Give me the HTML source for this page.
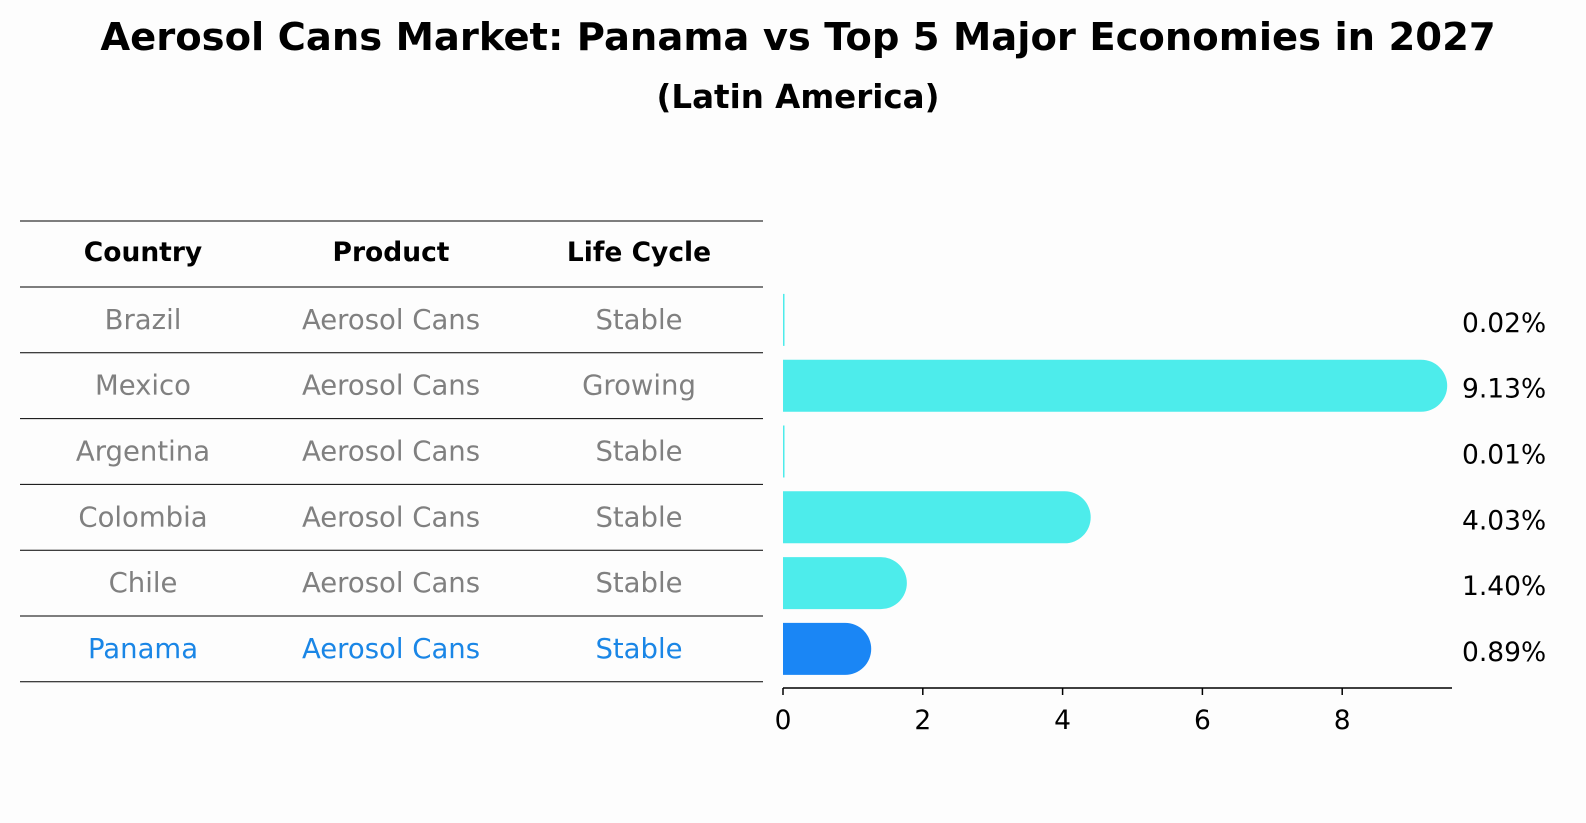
<!DOCTYPE html>
<html><head><meta charset="utf-8"><style>
html,body{margin:0;padding:0;background:#fdfdfd;overflow:hidden;font-family:"DejaVu Sans","Liberation Sans",sans-serif;}
svg{display:block}
</style></head><body>
<svg width="1586" height="823" viewBox="0 0 1586 823">
<text x="798" y="50" text-anchor="middle" font-size="38.5" font-weight="bold" font-family="DejaVu Sans, sans-serif">Aerosol Cans Market: Panama vs Top 5 Major Economies in 2027</text>
<text x="798" y="108" text-anchor="middle" font-size="32.5" font-weight="bold" font-family="DejaVu Sans, sans-serif">(Latin America)</text>
<g id="table"></g>
<g id="bars"></g>
</svg>
<script>
const countries=["Brazil","Mexico","Argentina","Colombia","Chile","Panama"];
const products=["Aerosol Cans","Aerosol Cans","Aerosol Cans","Aerosol Cans","Aerosol Cans","Aerosol Cans"];
const lifecycle=["Stable","Growing","Stable","Stable","Stable","Stable"];
const values=[0.02,9.13,0.01,4.03,1.40,0.89];
const ticks=[0,2,4,6,8];
const NS="http://www.w3.org/2000/svg";
function mk(tag,attrs,parent,text){const e=document.createElementNS(NS,tag);for(const k in attrs)e.setAttribute(k,attrs[k]);if(text!==undefined)e.textContent=text;parent.appendChild(e);return e;}
const tbl=document.getElementById('table'),bars=document.getElementById('bars');
const rowTop=287,rowH=65.8,cols=[143,391,639];
const F='DejaVu Sans, sans-serif';
let l=mk('line',{x1:20,x2:763,y1:221,y2:221,stroke:'#000','stroke-width':1},tbl);

["Country","Product","Life Cycle"].forEach((h,i)=>{const t=mk('text',{x:cols[i],y:261,'text-anchor':'middle','font-size':26.5,'font-weight':'bold','font-family':F},tbl,h);
});
const xs=v=>783+v*69.9;
const yc=i=>rowTop+rowH*(i+0.5);
for(let i=0;i<=countries.length;i++){const ln=mk('line',{x1:20,x2:763,y1:rowTop+rowH*i,y2:rowTop+rowH*i,stroke:'#000','stroke-width':1},tbl);
}
countries.forEach((c,i)=>{const col=i===countries.length-1?'#1a86e6':'#808080';
[c,products[i],lifecycle[i]].forEach((v,j)=>{const t=mk('text',{x:cols[j],y:yc(i)+9,'text-anchor':'middle','font-size':27.5,fill:col,'font-family':F},tbl,v);
});
const h=52,y=yc(i)-h/2,x1=xs(values[i]),r=h/2,fill=i===countries.length-1?'#1a86f5':'#4deceb';
const w=x1-783;
let d;
if(w<r){d=`M783 ${y} h${Math.max(1.5,w)} v${h} h-${Math.max(1.5,w)} Z`;}
else{d=`M783 ${y} H${x1} A${r} ${r} 0 0 1 ${x1} ${y+h} H783 Z`;}
const p=mk('path',{d:d,fill:fill},bars);

const lb=mk('text',{x:1462,y:yc(i)+12,'font-size':26.5,'font-family':F},bars,values[i].toFixed(2)+'%');

});
const ax=mk('line',{x1:783,x2:1452,y1:688,y2:688,stroke:'#000','stroke-width':1.5},bars);

ticks.forEach(t=>{const tk=mk('line',{x1:xs(t),x2:xs(t),y1:688,y2:695,stroke:'#000','stroke-width':1.5},bars);

const tl=mk('text',{x:xs(t),y:729,'text-anchor':'middle','font-size':26.5,'font-family':F},bars,String(t));
});
</script>
</body></html>
